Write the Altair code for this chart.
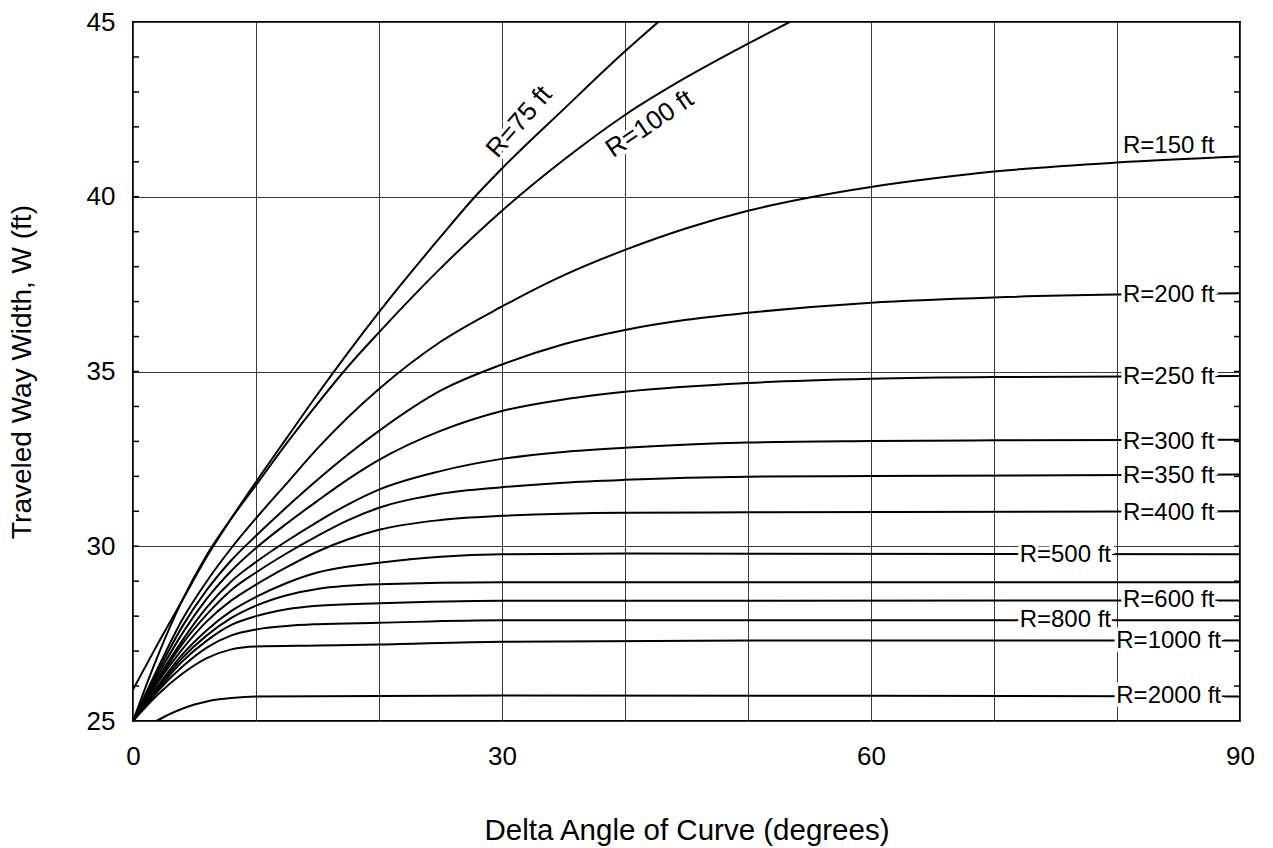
import altair as alt
import pandas as pd

# ---- data ----
r75_x = [0, 2, 4, 6, 8, 10, 12.5, 15, 17.5, 20, 25, 27.8, 30, 35, 40, 42.7]
r75_y = [25.9, 27.2, 28.45, 29.7, 30.8, 31.84, 33.1, 34.35, 35.55, 36.7, 38.85, 40.0, 40.81, 42.5, 44.16, 45.0]

r100_x = [0, 1, 2, 4, 6, 8, 10, 12.5, 15, 17.5, 20, 25, 30, 35, 40, 45, 50, 53.4]
r100_y = [25, 25.95, 26.85, 28.45, 29.75, 30.8, 31.75, 32.95, 34.08, 35.15, 36.12, 37.95, 39.6, 41.05, 42.34, 43.42, 44.38, 45.0]

r150_x = [0, 2, 4, 6, 8, 10, 12.5, 15, 17.5, 20, 25, 30, 35, 40, 45, 50, 55, 60, 65, 70, 80, 90]
r150_y = [25, 26.5, 27.9, 29.0, 29.95, 30.8, 31.8, 32.8, 33.7, 34.5, 35.85, 36.86, 37.75, 38.48, 39.1, 39.6, 39.98, 40.28, 40.52, 40.72, 40.98, 41.15]

r200_x = [0, 2, 4, 6, 8, 10, 12.5, 15, 17.5, 20, 25, 30, 35, 40, 45, 50, 60, 70, 80, 90]
r200_y = [25, 26.4, 27.7, 28.75, 29.6, 30.3, 31.12, 31.9, 32.63, 33.3, 34.45, 35.2, 35.78, 36.19, 36.48, 36.68, 36.97, 37.12, 37.2, 37.24]

r250_x = [0, 2, 4, 6, 8, 10, 12.5, 15, 17.5, 20, 25, 30, 35, 40, 50, 60, 70, 90]
r250_y = [25, 26.3, 27.5, 28.5, 29.3, 29.95, 30.65, 31.3, 31.92, 32.47, 33.3, 33.87, 34.2, 34.42, 34.67, 34.79, 34.84, 34.87]

r300_x = [0, 2, 4, 6, 8, 10, 12.5, 15, 17.5, 20, 25, 30, 35, 40, 50, 60, 70, 90]
r300_y = [25, 26.2, 27.3, 28.25, 29.0, 29.55, 30.15, 30.7, 31.2, 31.62, 32.15, 32.5, 32.7, 32.82, 32.97, 33.01, 33.03, 33.05]

r350_x = [0, 2, 4, 6, 8, 10, 12.5, 15, 17.5, 20, 25, 30, 35, 40, 50, 60, 90]
r350_y = [25, 26.15, 27.2, 28.05, 28.75, 29.25, 29.8, 30.3, 30.75, 31.1, 31.5, 31.69, 31.82, 31.9, 31.99, 32.01, 32.05]

r400_x = [0, 2, 4, 6, 8, 10, 12.5, 15, 17.5, 20, 25, 30, 40, 50, 90]
r400_y = [25, 26.1, 27.05, 27.85, 28.45, 28.9, 29.4, 29.85, 30.2, 30.47, 30.75, 30.87, 30.96, 30.97, 31.0]

r500_x = [0, 2, 4, 6, 8, 10, 12.5, 15, 17.5, 20, 25, 30, 40, 90]
r500_y = [25, 26.0, 26.9, 27.6, 28.15, 28.55, 28.95, 29.25, 29.42, 29.53, 29.7, 29.77, 29.79, 29.77]

rx_x = [0, 2, 4, 6, 8, 10, 12.5, 15, 20, 30, 90]
rx_y = [25, 25.95, 26.8, 27.45, 27.95, 28.3, 28.6, 28.78, 28.91, 28.97, 28.97]

r600_x = [0, 2, 4, 6, 8, 10, 12.5, 15, 20, 30, 90]
r600_y = [25, 25.9, 26.7, 27.3, 27.75, 28.0, 28.2, 28.3, 28.37, 28.44, 28.45]

r800_x = [0, 2, 4, 6, 8, 10, 12.5, 15, 20, 30, 90]
r800_y = [25, 25.85, 26.55, 27.1, 27.45, 27.62, 27.72, 27.77, 27.81, 27.88, 27.88]

r1000_x = [0, 2, 4, 6, 8, 10, 15, 20, 30, 50, 90]
r1000_y = [25, 25.75, 26.35, 26.8, 27.05, 27.13, 27.16, 27.19, 27.27, 27.3, 27.3]

r2000_x = [1.9, 3, 4, 5, 6, 7, 8, 10, 30, 60, 90]
r2000_y = [25, 25.2, 25.35, 25.47, 25.56, 25.62, 25.66, 25.7, 25.73, 25.72, 25.7]

curve_names = ["75", "100", "150", "200", "250", "300", "350", "400", "500", "x", "600", "800", "1000", "2000"]
curve_xs = [r75_x, r100_x, r150_x, r200_x, r250_x, r300_x, r350_x, r400_x, r500_x, rx_x, r600_x, r800_x, r1000_x, r2000_x]
curve_ys = [r75_y, r100_y, r150_y, r200_y, r250_y, r300_y, r350_y, r400_y, r500_y, rx_y, r600_y, r800_y, r1000_y, r2000_y]

label_text = ["R=75 ft", "R=100 ft", "R=150 ft", "R=200 ft", "R=250 ft", "R=300 ft", "R=350 ft",
              "R=400 ft", "R=500 ft", "R=600 ft", "R=800 ft", "R=1000 ft", "R=2000 ft"]
label_x = [31.4, 42.0, 84.2, 84.2, 84.2, 84.2, 84.2, 84.2, 75.8, 84.2, 75.8, 84.2, 84.2]
label_y = [42.14, 42.08, 41.45, 37.19, 34.85, 32.99, 32.01, 30.96, 29.75, 28.46, 27.89, 27.3, 25.72]
label_angle = [311, 326, 0, 0, 0, 0, 0, 0, 0, 0, 0, 0, 0]
label_size = [26, 26, 24, 24, 24, 24, 24, 24, 24, 24, 24, 24, 24]

minor_ticks = list(range(26, 45))
x_grid = [0, 10, 20, 30, 40, 50, 60, 70, 80, 90]
y_grid = [25, 30, 35, 40, 45]

# ---- tables ----
rows = []
for name, xs, ys in zip(curve_names, curve_xs, curve_ys):
    for xv, yv in zip(xs, ys):
        rows.append({"curve": name, "x": xv, "y": yv})
curves = pd.DataFrame(rows)
labels = pd.DataFrame({"text": label_text, "x": label_x, "y": label_y,
                       "angle": label_angle, "size": label_size})
ticks = pd.DataFrame({"y": minor_ticks})

W, H = 1107, 699
FONT = "Liberation Sans"

xscale = alt.Scale(domain=[0, 90], nice=False, zero=False)
yscale = alt.Scale(domain=[25, 45], nice=False, zero=False)

lines = alt.Chart(curves).mark_line(color="black", strokeWidth=2, interpolate="monotone", clip=True).encode(
    x=alt.X("x:Q", scale=xscale,
            axis=alt.Axis(values=x_grid, title="Delta Angle of Curve (degrees)",
                          labelExpr="datum.value % 30 == 0 ? datum.label : ''")),
    y=alt.Y("y:Q", scale=yscale,
            axis=alt.Axis(values=y_grid, title="Traveled Way Width, W (ft)")),
    detail="curve:N",
)

left_ticks = alt.Chart(ticks).mark_rule(color="black", strokeWidth=1.5).encode(
    x=alt.value(0), x2=alt.value(6), y=alt.Y("y:Q", scale=yscale))
right_ticks = alt.Chart(ticks).mark_rule(color="black", strokeWidth=1.5).encode(
    x=alt.value(W - 6), x2=alt.value(W), y=alt.Y("y:Q", scale=yscale))

# white knock-out behind each label (space replaced by an equal-width glyph so the box is solid)
label_bg = alt.Chart(labels).transform_calculate(
    bg="replace(datum.text, ' ', 'I')"
).mark_text(font=FONT, color="white", stroke="white",
            strokeWidth=7, align="center", baseline="middle").encode(
    x=alt.X("x:Q", scale=xscale), y=alt.Y("y:Q", scale=yscale),
    text="bg:N", angle=alt.Angle("angle:Q", scale=None), size=alt.Size("size:Q", scale=None))
label_fg = alt.Chart(labels).mark_text(font=FONT, color="black",
                                       align="center", baseline="middle").encode(
    x=alt.X("x:Q", scale=xscale), y=alt.Y("y:Q", scale=yscale),
    text="text:N", angle=alt.Angle("angle:Q", scale=None), size=alt.Size("size:Q", scale=None))

chart = alt.layer(lines, left_ticks, right_ticks, label_bg, label_fg).properties(
    width=W, height=H,
    autosize=alt.AutoSizeParams(type="none"),
    padding={"left": 133, "top": 22, "right": 33, "bottom": 127},
    background="white",
).configure_view(stroke="black", strokeWidth=2).configure_axis(
    grid=True, gridColor="#3a3a3a", gridWidth=1, ticks=False, domain=False, labelFlush=False,
    labelFont=FONT, labelFontSize=26, labelColor="black",
    titleFont=FONT, titleFontWeight="normal", titleColor="black",
).configure_axisX(labelPadding=22, titlePadding=47, titleFontSize=29.5).configure_axisY(
    labelPadding=18, titlePadding=50, titleFontSize=28)

chart.save("out.html", embed_options={"renderer": "svg", "actions": False})
